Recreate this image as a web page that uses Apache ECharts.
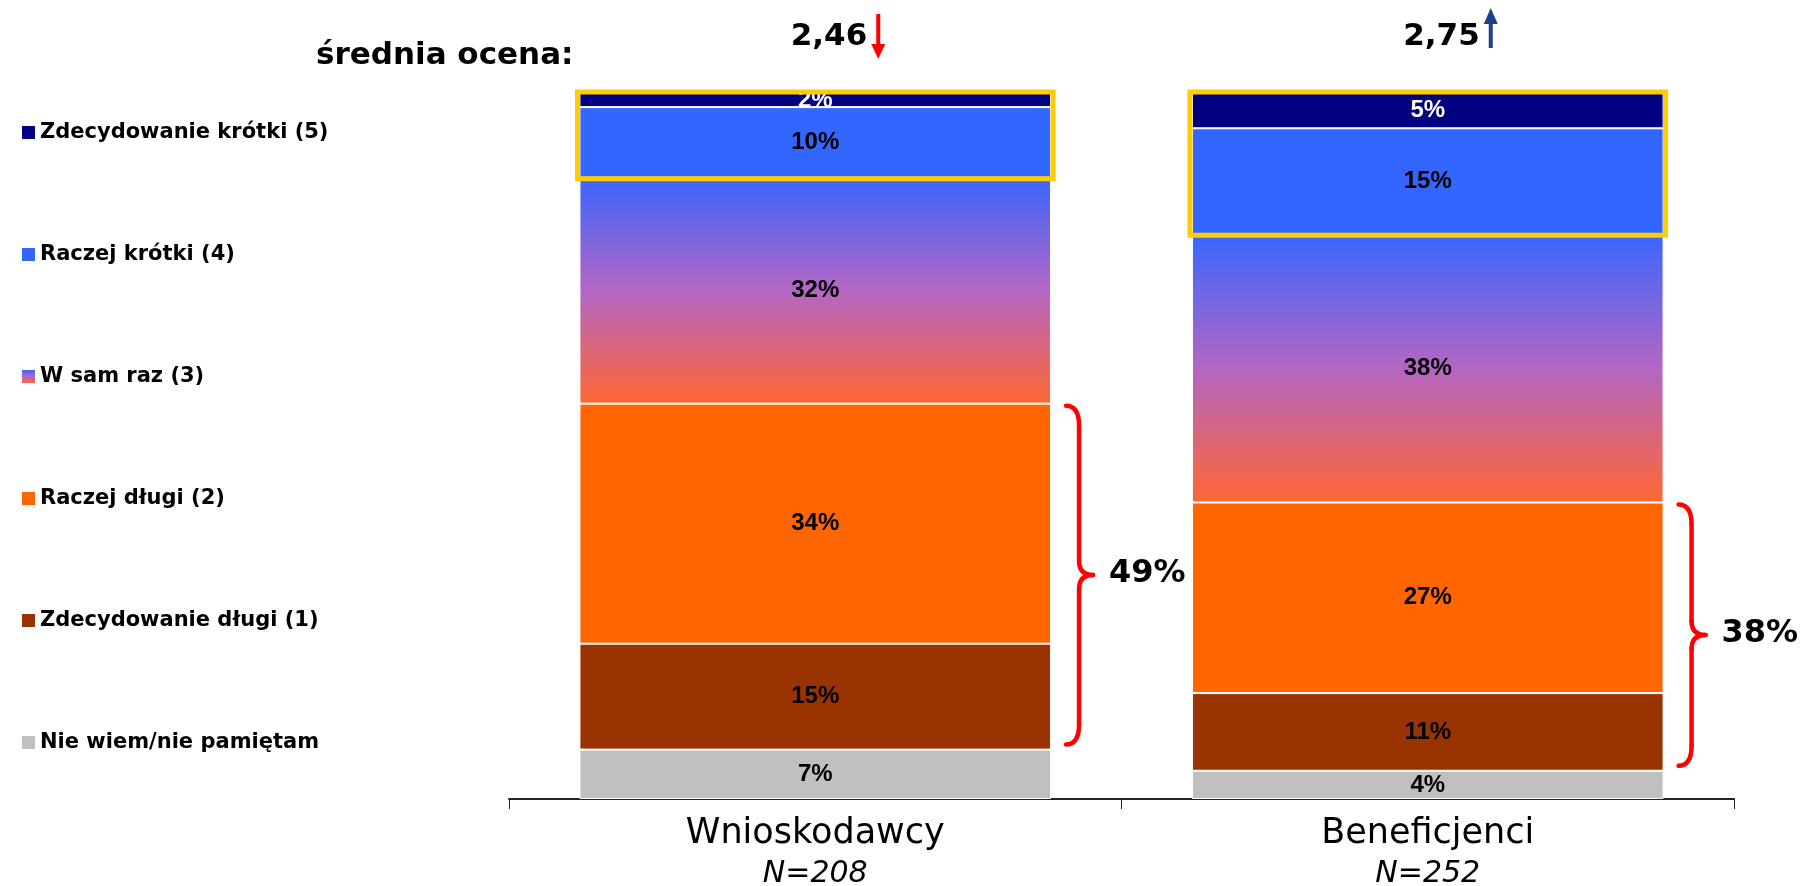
<!DOCTYPE html>
<html>
<head>
<meta charset="utf-8">
<title>średnia ocena</title>
<script src="https://cdn.jsdelivr.net/npm/echarts@6/dist/echarts.min.js"></script>
<style>
  html, body { margin: 0; padding: 0; background: #fff; }
  #chart { width: 1808px; height: 886px; }
</style>
</head>
<body>
<div id="chart"></div>
<script>
const categories = ['Wnioskodawcy', 'Beneficjenci']
const sampleSizes = [208, 252]
const averages = ['2,46', '2,75']
const trends = ['down', 'up']

// segments, listed bottom-up as they are stacked
const nieWiem = [7, 4]
const zdecDlugi = [15, 11]
const raczejDlugi = [34, 27]
const wSamRaz = [32, 38]
const raczejKrotki = [10, 15]
const zdecKrotki = [2, 5]

// totals shown next to the braces (raczej + zdecydowanie długi)
const longTotals = [49, 38]

const legendOrder = [
  'Zdecydowanie krótki (5)',
  'Raczej krótki (4)',
  'W sam raz (3)',
  'Raczej długi (2)',
  'Zdecydowanie długi (1)',
  'Nie wiem/nie pamiętam'
]

const gradient = new echarts.graphic.LinearGradient(0, 0, 0, 1, [
  { offset: 0, color: '#3A66FF' },
  { offset: 0.5, color: '#B466C4' },
  { offset: 1, color: '#FF6633' }
])

const seriesDefs = [
  { name: 'Nie wiem/nie pamiętam', data: nieWiem, color: '#C0C0C0', label: '#000' },
  { name: 'Zdecydowanie długi (1)', data: zdecDlugi, color: '#993300', label: '#000' },
  { name: 'Raczej długi (2)', data: raczejDlugi, color: '#FF6600', label: '#000' },
  { name: 'W sam raz (3)', data: wSamRaz, color: gradient, label: '#000' },
  { name: 'Raczej krótki (4)', data: raczejKrotki, color: '#3366FF', label: '#000' },
  { name: 'Zdecydowanie krótki (5)', data: zdecKrotki, color: '#000080', label: '#fff' }
]

const chart = echarts.init(document.getElementById('chart'))

chart.setOption({
  animation: false,
  // keep the grid fixed, the sample-size line may run off the bottom edge
  grid: { left: 509, right: 74, top: 93, bottom: 87, outerBoundsMode: 'none' },
  legend: {
    data: legendOrder,
    orient: 'vertical',
    icon: 'rect',
    left: 17,
    top: 116,
    itemWidth: 13,
    itemHeight: 13,
    itemGap: 99,
    selectedMode: false,
    itemStyle: { borderWidth: 0 },
    textStyle: {
      fontFamily: 'DejaVu Sans',
      fontWeight: 'bold',
      fontSize: 21,
      lineHeight: 23,
      color: '#000'
    }
  },
  xAxis: {
    type: 'category',
    data: categories,
    axisLine: { lineStyle: { color: '#222', width: 2 } },
    axisTick: { show: true, length: 10, lineStyle: { color: '#222', width: 1 } },
    axisLabel: {
      margin: 14,
      formatter: (v, i) => `{a|${v}}\n{b|N=${sampleSizes[i]}}`,
      rich: {
        a: { fontFamily: 'DejaVu Sans', fontSize: 35, lineHeight: 41, color: '#000' },
        b: { fontFamily: 'DejaVu Sans', fontStyle: 'italic', fontSize: 30, lineHeight: 41, color: '#000' }
      }
    }
  },
  yAxis: { type: 'value', min: 0, max: 100, show: false },
  series: seriesDefs.map(s => ({
    name: s.name,
    type: 'bar',
    stack: 'total',
    barCategoryGap: '23%',
    data: s.data,
    itemStyle: { color: s.color, borderColor: '#fff', borderWidth: 1 },
    label: {
      show: true,
      position: 'inside',
      formatter: '{c}%',
      color: s.label,
      fontFamily: 'Liberation Sans',
      fontWeight: 'bold',
      fontSize: 24
    }
  }))
})

// overlays: averages with arrows, yellow boxes, braces
const drawOverlays = () => {
  const px = (i, v) => chart.convertToPixel({ gridIndex: 0 }, [i, v])
  const band = px(1, 0)[0] - px(0, 0)[0]
  const barW = band * 0.77
  const red = { stroke: '#FF0000', lineWidth: 4.5, fill: 'none', lineCap: 'round' }
  const elements = [{
    type: 'text',
    x: 316,
    y: 56,
    style: {
      text: 'średnia ocena:',
      font: 'bold 31px "DejaVu Sans"',
      fill: '#000',
      verticalAlign: 'middle'
    }
  }]

  categories.forEach((c, i) => {
    const [cx, yTop] = px(i, 100)
    const right = cx + barW / 2
    const left = cx - barW / 2

    // average score + trend arrow
    elements.push({
      type: 'text',
      x: cx + 52,
      y: 37,
      style: {
        text: averages[i],
        font: 'bold 31px "DejaVu Sans"',
        fill: '#000',
        align: 'right',
        verticalAlign: 'middle'
      }
    })
    const ax = cx + 63
    if (trends[i] === 'down') {
      elements.push({ type: 'rect', shape: { x: ax - 2, y: 14, width: 4, height: 32 }, style: { fill: '#FF0000' } })
      elements.push({ type: 'polygon', shape: { points: [[ax - 7, 44], [ax + 7, 44], [ax, 59]] }, style: { fill: '#FF0000' } })
    } else {
      elements.push({ type: 'rect', shape: { x: ax - 2, y: 22, width: 4, height: 26 }, style: { fill: '#1F3F8F' } })
      elements.push({ type: 'polygon', shape: { points: [[ax - 7, 24], [ax + 7, 24], [ax, 8]] }, style: { fill: '#1F3F8F' } })
    }

    // yellow frame around the "short" answers
    const yShort = px(i, 100 - zdecKrotki[i] - raczejKrotki[i])[1]
    elements.push({
      type: 'rect',
      z: 100,
      shape: { x: left - 2, y: yTop - 1, width: barW + 4, height: yShort - yTop + 2 },
      style: { fill: 'none', stroke: '#FFCC00', lineWidth: 5 }
    })

    // brace over the "long" answers
    const y0 = px(i, nieWiem[i] + zdecDlugi[i] + raczejDlugi[i])[1] + 2
    const y1 = px(i, nieWiem[i])[1] - 5
    const ym = (y0 + y1) / 2
    const x0 = right + 15
    const x1 = right + 28
    const x2 = right + 42
    const r = 20
    const r2 = 14
    const curve = (a, b, cp) => ({
      type: 'bezierCurve',
      shape: { x1: a[0], y1: a[1], x2: b[0], y2: b[1], cpx1: cp[0], cpy1: cp[1] },
      style: red
    })
    const line = (a, b) => ({
      type: 'line',
      shape: { x1: a[0], y1: a[1], x2: b[0], y2: b[1] },
      style: red
    })
    elements.push(
      curve([x0, y0], [x1, y0 + r], [x1, y0]),
      line([x1, y0 + r], [x1, ym - r2]),
      curve([x1, ym - r2], [x2, ym], [x1, ym]),
      curve([x2, ym], [x1, ym + r2], [x1, ym]),
      line([x1, ym + r2], [x1, y1 - r]),
      curve([x1, y1 - r], [x0, y1], [x1, y1])
    )
    elements.push({
      type: 'text',
      x: right + 58,
      y: ym - 1,
      style: {
        text: longTotals[i] + '%',
        font: 'bold 32px "DejaVu Sans"',
        fill: '#000',
        verticalAlign: 'middle'
      }
    })
  })

  chart.setOption({ graphic: { elements } })
}

drawOverlays()
</script>
</body>
</html>
